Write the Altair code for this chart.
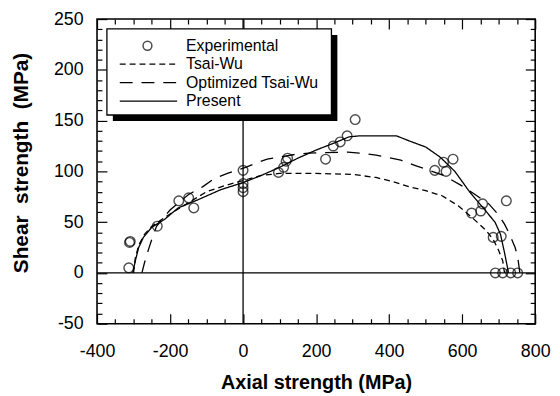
import altair as alt
import pandas as pd

# ---------------- data ----------------
exp_x = [-313, -311, -309, -235, -176, -149, -135, 0, 0, 0, 0, 97, 111, 118, 122,
         226, 247, 266, 285, 307, 525, 549, 556, 575, 626, 651, 656, 685, 707, 721,
         691, 711, 733, 752]
exp_y = [5, 30, 31, 46, 71, 74, 64, 101, 88, 84, 80, 99, 104, 110, 113,
         112, 125, 129, 135, 151, 101, 109, 100, 112, 59, 61, 68, 35, 36, 71,
         0, 0, 0, 0]

tsai_x = [-300, -295, -285, -270, -250, -200, -150, -100, -50, 0, 50, 100, 200, 300,
          364, 410, 454, 500, 545, 590, 635, 665, 685, 700, 711, 716]
tsai_y = [0, 15, 28, 38, 46, 58, 69, 80, 86, 91, 96, 98, 98, 97,
          94, 90, 85, 81, 76, 66, 52, 42, 33, 22, 12, 0]

opt_x = [-277, -270, -260, -250, -237, -200, -150, -110, -79, -43, 7, 34, 66, 147, 179,
         287, 318, 364, 432, 470, 550, 608, 673, 700, 716, 730, 745, 752, 758]
opt_y = [0, 10, 22, 33, 46, 62, 77, 85, 93, 98, 104, 108, 112, 117, 118,
         119, 118, 116, 111, 106, 96, 84, 68, 57, 48, 38, 25, 16, 0]

pres_x = [-302, -295, -286, -273, -250, -214, -178, -124, -61, 0, 50, 100, 150, 200, 250,
          290, 320, 420, 455, 500, 540, 580, 620, 660, 690, 705, 716, 727]
pres_y = [0, 12, 25, 35, 45, 53, 64, 72, 82, 89, 96, 104, 113, 121, 128,
          134, 135, 135, 130, 124, 114, 100, 80, 63, 50, 38, 20, 0]

series_names = ["Tsai-Wu", "Optimized Tsai-Wu", "Present"]
legend_labels = ["Experimental", "Tsai-Wu", "Optimized Tsai-Wu", "Present"]

x_major = [-400, -200, 0, 200, 400, 600, 800]
x_minor = [v for v in range(-400, 801, 50) if v % 200 != 0]
y_major = [-50, 0, 50, 100, 150, 200, 250]
y_minor = [v for v in range(-50, 251, 10) if v % 50 != 0]

x_title = "Axial strength (MPa)"
y_title = "Shear\u00a0\u00a0strength\u00a0\u00a0(MPa)"

# ---------------- tables ----------------
exp_df = pd.DataFrame({"x": exp_x, "y": exp_y})
frames = []
for name, xs_, ys_ in zip(series_names, [tsai_x, opt_x, pres_x], [tsai_y, opt_y, pres_y]):
    frames.append(pd.DataFrame({"x": xs_, "y": ys_, "series": name, "idx": range(len(xs_))}))
curve_df = pd.concat(frames, ignore_index=True)
legend_df = pd.DataFrame({"label": legend_labels, "row": list(range(len(legend_labels)))})
one_df = pd.DataFrame({"a": [0]})

FONT = "Liberation Sans"
XDOM = [-400, 800]
YDOM = [-50, 250]


def xsc():
    return alt.Scale(domain=XDOM, nice=False, zero=False)


def ysc():
    return alt.Scale(domain=YDOM, nice=False, zero=False)


dash_scale = alt.Scale(domain=series_names, range=[[6, 4], [13, 9], [1, 0]])


def make_axis(orient, values, size, labels, title=None, label_pad=0, title_pad=0,
              title_size=20, **extra):
    kw = dict(orient=orient, values=values, tickSize=size, offset=-size, domain=False,
              grid=False, labels=labels, ticks=True, tickColor="black", tickWidth=1.2)
    if labels:
        kw.update(labelFont=FONT, labelFontSize=18, labelColor="black",
                  labelPadding=label_pad, labelFlush=False, labelOverlap=False,
                  labelExpr="'' + datum.value")
    if title:
        kw.update(title=title, titleFont=FONT, titleFontSize=title_size,
                  titleFontWeight="bold", titleColor="black", titlePadding=title_pad)
    else:
        kw["title"] = None
    kw.update(extra)
    return alt.Axis(**kw)


base_exp = alt.Chart(exp_df)

zero_h = alt.Chart(one_df).mark_rule(color="black", strokeWidth=1.3).encode(
    y=alt.Y(datum=0, type="quantitative", scale=ysc(), axis=None))
zero_v = alt.Chart(one_df).mark_rule(color="black", strokeWidth=1.3).encode(
    x=alt.X(datum=0, type="quantitative", scale=xsc(), axis=None))

curves = alt.Chart(curve_df).mark_line(color="black", strokeWidth=1.3).encode(
    x=alt.X("x:Q", scale=xsc(), axis=None),
    y=alt.Y("y:Q", scale=ysc(), axis=None),
    detail="series:N",
    strokeDash=alt.StrokeDash("series:N", scale=dash_scale, legend=None),
    order="idx:Q",
)

points = base_exp.mark_point(shape="circle", size=95, filled=False, color="black",
                             strokeWidth=1.4).encode(
    x=alt.X("x:Q", scale=xsc(),
            axis=make_axis("bottom", x_major, 10, True, x_title, 19, 13)),
    y=alt.Y("y:Q", scale=ysc(),
            axis=make_axis("left", y_major, 10, True, y_title, 14, 22,
                           title_size=21, titleY=145)),
)

ax_minor_bl = base_exp.mark_point(opacity=0).encode(
    x=alt.X("x:Q", scale=xsc(), axis=make_axis("bottom", x_minor, 5, False)),
    y=alt.Y("y:Q", scale=ysc(), axis=make_axis("left", y_minor, 5, False)),
)
ax_major_tr = base_exp.mark_point(opacity=0).encode(
    x=alt.X("x:Q", scale=xsc(), axis=make_axis("top", x_major, 10, False)),
    y=alt.Y("y:Q", scale=ysc(), axis=make_axis("right", y_major, 10, False)),
)
ax_minor_tr = base_exp.mark_point(opacity=0).encode(
    x=alt.X("x:Q", scale=xsc(), axis=make_axis("top", x_minor, 5, False)),
    y=alt.Y("y:Q", scale=ysc(), axis=make_axis("right", y_minor, 5, False)),
)

data_part = alt.layer(zero_h, zero_v, curves, points, ax_minor_bl, ax_major_tr,
                      ax_minor_tr).resolve_axis(x="independent", y="independent")

# ---------------- legend (pixel placed box) ----------------
row_y = alt.Y("row:Q", scale=alt.Scale(domain=[0, 3], range=[27, 83]), axis=None)

shadow = alt.Chart(one_df).mark_rect(color="black").encode(
    x=alt.value(16), x2=alt.value(243), y=alt.value(16), y2=alt.value(103))
box = alt.Chart(one_df).mark_rect(fill="white", stroke="black", strokeWidth=1.3).encode(
    x=alt.value(10), x2=alt.value(237), y=alt.value(10), y2=alt.value(97))

leg = alt.Chart(legend_df)
leg_point = leg.transform_filter("datum.row == 0").mark_point(
    shape="circle", size=80, filled=False, color="black", strokeWidth=1.5).encode(
    x=alt.value(51), y=row_y)
leg_lines = leg.transform_filter("datum.row > 0").mark_rule(
    color="black", strokeWidth=1.3).encode(
    x=alt.value(23), x2=alt.value(81), y=row_y,
    strokeDash=alt.StrokeDash("label:N", scale=dash_scale, legend=None))
leg_text = leg.mark_text(
    align="left", baseline="middle", font=FONT, fontSize=16, color="black").encode(
    x=alt.value(90), y=row_y, text="label:N")

legend_part = alt.layer(shadow, box, leg_point, leg_lines, leg_text)

chart = alt.layer(data_part, legend_part).resolve_scale(
    x="independent", y="independent"
).properties(
    width=443, height=308,
    padding={"left": 90, "top": 9, "right": 17, "bottom": 79},
    autosize=alt.AutoSizeParams(type="none"),
    background="white",
).configure_view(stroke="black", strokeWidth=1.6)

chart.save("out.html", embed_options={"renderer": "svg", "actions": False})
